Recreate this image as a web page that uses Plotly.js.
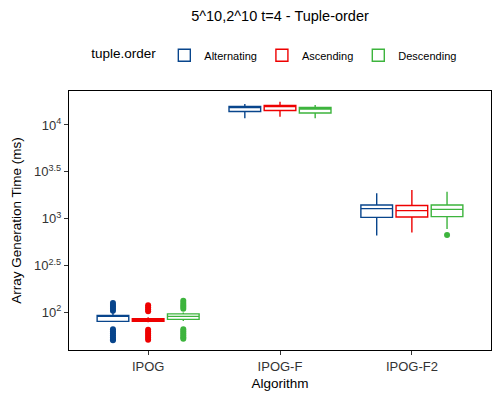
<!DOCTYPE html>
<html>
<head>
<meta charset="utf-8">
<script src="https://cdn.plot.ly/plotly-3.0.1.min.js"></script>
<style>html,body{margin:0;padding:0;background:#fff}#chart{width:500px;height:400px}</style>
</head>
<body>
<div id="chart"></div>
<script>
// ---- data ----
const categories = ['IPOG', 'IPOG-F', 'IPOG-F2'];
const seriesNames = ['Alternating', 'Ascending', 'Descending'];

const altQ1 = [80.0, 13930, 1031];
const altMedian = [90.4, 15380, 1280];
const altQ3 = [92.7, 15750, 1400];
const altLower = [79.5, 11790, 659];
const altUpper = [101, 16760, 1866];
const altOutliers = [
  [125.9, 119.9, 114.2, 108.8, 103.6, 65.8, 62.6, 59.6, 56.8, 54.0, 51.4, 50.1],
  [],
  []
];

const ascQ1 = [80.0, 14290, 1042];
const ascMedian = [82.4, 15750, 1217];
const ascQ3 = [85.2, 16140, 1383];
const ascLower = [78.0, 12270, 713];
const ascUpper = [88.4, 17740, 2023];
const ascOutliers = [
  [118.5, 112.8, 107.4, 102.3, 64.9, 61.8, 58.8, 56.0, 53.3, 50.8],
  [],
  []
];

const descQ1 = [84.0, 13430, 1051];
const descMedian = [90.4, 14820, 1254];
const descQ3 = [96.1, 15380, 1400];
const descLower = [80.9, 11790, 776];
const descUpper = [99.7, 16340, 1941];
const descOutliers = [
  [132.5, 125.9, 119.9, 114.2, 108.8, 65.8, 62.6, 59.6, 56.8, 54.0, 52.1],
  [],
  [670]
];

const yTickExponents = [2, 2.5, 3, 3.5, 4];
const yTickText = ['10<sup>2</sup>', '10<sup>2.5</sup>', '10<sup>3</sup>', '10<sup>3.5</sup>', '10<sup>4</sup>'];

const colors = ['#08458C', '#EE0000', '#3DB43D'];

// ---- build traces ----
const stats = [
  [altQ1, altMedian, altQ3, altLower, altUpper, altOutliers],
  [ascQ1, ascMedian, ascQ3, ascLower, ascUpper, ascOutliers],
  [descQ1, descMedian, descQ3, descLower, descUpper, descOutliers]
];

const traces = seriesNames.map(function (name, k) {
  const s = stats[k];
  return {
    type: 'box',
    name: name,
    x: categories,
    q1: s[0], median: s[1], q3: s[2], lowerfence: s[3], upperfence: s[4],
    y: s[5],
    boxpoints: 'outliers',
    jitter: 0,
    pointpos: 0,
    whiskerwidth: 0,
    fillcolor: '#ffffff',
    line: {color: colors[k], width: 1.4},
    marker: {color: colors[k], size: 6, line: {width: 0}},
    hoverinfo: 'skip'
  };
});

const font = 'Liberation Sans, Arial, sans-serif';

const layout = {
  width: 500, height: 400,
  margin: {l: 69, r: 9, t: 91, b: 50},
  paper_bgcolor: '#fff', plot_bgcolor: '#fff',
  font: {family: font, color: '#000', size: 12},
  boxmode: 'group',
  boxgap: 0.2,
  boxgroupgap: 0.1,
  title: {
    text: '5^10,2^10 t=4 - Tuple-order',
    font: {family: font, size: 14.5, color: '#000'},
    x: 0.5, xref: 'paper', xanchor: 'center',
    y: 1 - 16 / 400, yref: 'container', yanchor: 'middle'
  },
  showlegend: true,
  legend: {
    orientation: 'h',
    x: 0.49, xanchor: 'center', xref: 'paper',
    y: 1.138, yanchor: 'middle', yref: 'paper',
    font: {family: font, size: 11, color: '#000'},
    title: {text: 'tuple.order', font: {family: font, size: 13.5, color: '#000'}, side: 'left'},
    itemwidth: 30,
    tracegroupgap: 0,
    bgcolor: 'rgba(0,0,0,0)'
  },
  xaxis: {
    type: 'category',
    range: [-0.6, 2.6],
    showline: true, linecolor: '#000', linewidth: 1.2, mirror: true,
    showgrid: false, zeroline: false,
    ticks: 'outside', ticklen: 4, tickcolor: '#333', tickwidth: 1,
    tickfont: {family: font, size: 13, color: '#333'},
    title: {text: 'Algorithm', font: {family: font, size: 13.5, color: '#000'}, standoff: 5},
    automargin: false
  },
  yaxis: {
    type: 'log',
    range: [1.597, 4.363],
    showline: true, linecolor: '#000', linewidth: 1.2, mirror: true,
    showgrid: false, zeroline: false,
    tickmode: 'array',
    tickvals: yTickExponents.map(function (e) { return Math.pow(10, e); }),
    ticktext: yTickText,
    ticks: 'outside', ticklen: 4, tickcolor: '#333', tickwidth: 1,
    tickfont: {family: font, size: 13, color: '#333'},
    title: {text: 'Array Generation Time (ms)', font: {family: font, size: 13.5, color: '#000'}, standoff: 9},
    automargin: false
  }
};

Plotly.newPlot('chart', traces, layout, {displayModeBar: false, staticPlot: true});
</script>
</body>
</html>
